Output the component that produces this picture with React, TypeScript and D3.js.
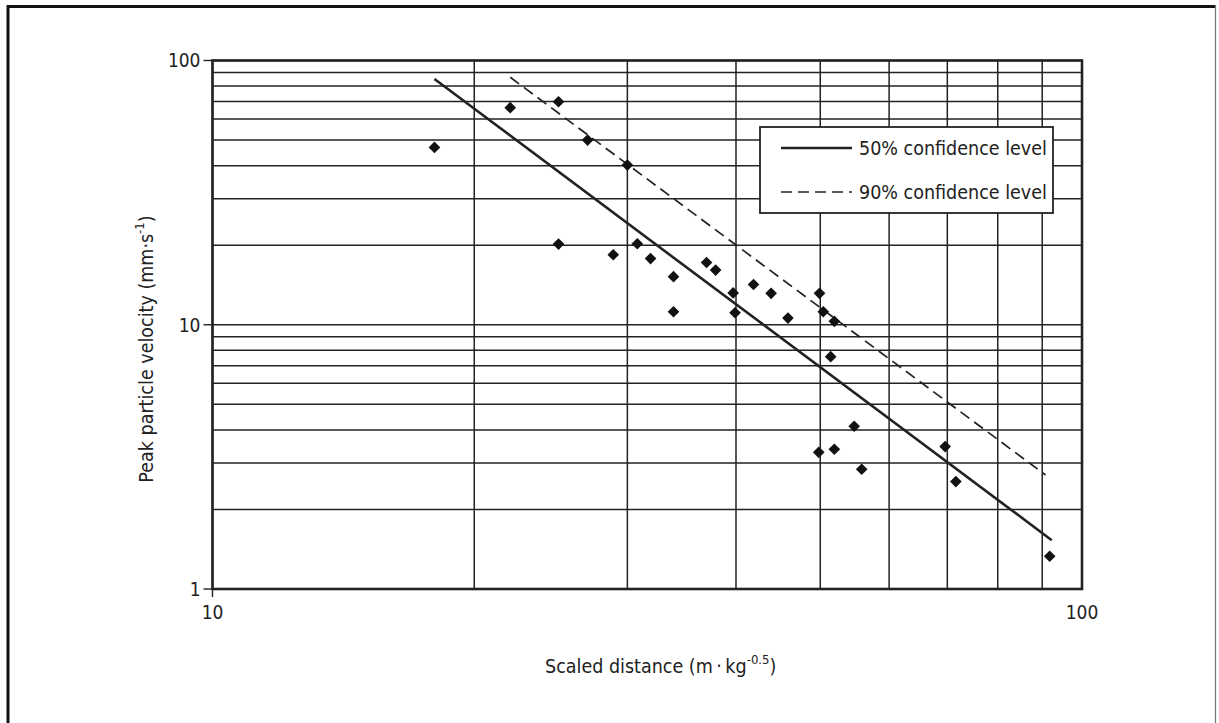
import React, { useEffect, useRef } from 'react';
import * as d3 from 'd3';

// scaled distance (m·kg^-0.5) and peak particle velocity (mm/s)
const distance = [18.0, 22.0, 25.0, 27.0, 30.0, 25.0, 28.9, 30.8, 31.9, 33.9, 33.9, 37.0, 37.9, 39.7, 39.9, 41.9, 43.9, 45.9, 49.9, 50.4, 51.9, 51.4, 49.8, 51.9, 54.7, 55.8, 69.6, 71.6, 91.8];
const velocity = [46.9, 66.3, 69.8, 50.0, 40.2, 20.2, 18.4, 20.25, 17.8, 15.2, 11.2, 17.2, 16.1, 13.2, 11.1, 14.2, 13.15, 10.6, 13.15, 11.2, 10.3, 7.57, 3.29, 3.38, 4.13, 2.84, 3.46, 2.55, 1.33];

// fitted lines (end points)
const fit50Distance = [18.0, 92.3];
const fit50Velocity = [85.1, 1.53];
const fit90Distance = [22.0, 90.8];
const fit90Velocity = [86.4, 2.7];

const xGrid = [10, 20, 30, 40, 50, 60, 70, 80, 90, 100];
const yGrid = [1, 2, 3, 4, 5, 6, 7, 8, 9, 10, 20, 30, 40, 50, 60, 70, 80, 90, 100];
const xTickLabels = [10, 100];
const yTickLabels = [1, 10, 100];
const legendLabels = ['50% confidence level', '90% confidence level'];

const FONT = '"DejaVu Sans", sans-serif';
const INK = '#222';

export default function App() {
    const ref = useRef<SVGSVGElement>(null);

    useEffect(() => {
        const svg = d3.select(ref.current);
        svg.selectAll('*').remove();

        const x = d3.scaleLog().domain([10, 100]).range([212.5, 1082]);
        const y = d3.scaleLog().domain([1, 100]).range([589, 60.5]);
        const [x0, x1] = x.range();
        const [y0, y1] = y.range();

        // outer frame
        svg.append('line').attr('x1', 8).attr('x2', 8).attr('y1', 5).attr('y2', 723)
            .attr('stroke', '#111').attr('stroke-width', 3);
        svg.append('line').attr('x1', 7).attr('x2', 1216).attr('y1', 6.5).attr('y2', 6.5)
            .attr('stroke', '#111').attr('stroke-width', 3);
        svg.append('line').attr('x1', 1215.5).attr('x2', 1215.5).attr('y1', 5).attr('y2', 723)
            .attr('stroke', '#777').attr('stroke-width', 1.2);

        const g = svg.append('g')
            .attr('font-family', FONT).attr('font-stretch', 'condensed').attr('fill', INK);

        // grid
        g.selectAll('.hgrid').data(yGrid).enter().append('line')
            .attr('x1', x0).attr('x2', x1)
            .attr('y1', d => y(d)).attr('y2', d => y(d))
            .attr('stroke', INK).attr('stroke-width', 1.5);
        g.selectAll('.vgrid').data(xGrid).enter().append('line')
            .attr('x1', d => x(d)).attr('x2', d => x(d))
            .attr('y1', y1).attr('y2', y0)
            .attr('stroke', INK).attr('stroke-width', 1.5);

        // plot border
        g.append('rect').attr('x', x0).attr('y', y1)
            .attr('width', x1 - x0).attr('height', y0 - y1)
            .attr('fill', 'none').attr('stroke', INK).attr('stroke-width', 2.6);

        // ticks + labels
        g.selectAll('.ytick').data(yTickLabels).enter().append('line')
            .attr('x1', x0 - 9).attr('x2', x0).attr('y1', d => y(d)).attr('y2', d => y(d))
            .attr('stroke', INK).attr('stroke-width', 1.4);
        g.selectAll('.ylab').data(yTickLabels).enter().append('text')
            .attr('x', x0 - 12).attr('y', d => y(d)).attr('dy', '0.36em')
            .attr('text-anchor', 'end').attr('font-size', 19)
            .text(d => d);
        g.append('line').attr('x1', x0).attr('x2', x0).attr('y1', y0).attr('y2', y0 + 8)
            .attr('stroke', INK).attr('stroke-width', 1.4);
        g.selectAll('.xlab').data(xTickLabels).enter().append('text')
            .attr('x', d => x(d)).attr('y', y0 + 30)
            .attr('text-anchor', 'middle').attr('font-size', 19)
            .text(d => d);

        // axis titles
        const xt = g.append('text').attr('x', 545).attr('y', 673).attr('font-size', 19.5);
        xt.append('tspan').text('Scaled distance (m\u2009\u00b7\u2009kg');
        xt.append('tspan').attr('dy', -9).attr('font-size', 13).text('-0.5');
        xt.append('tspan').attr('dy', 9).text(')');

        const yt = g.append('text').attr('transform', 'translate(153,349) rotate(-90)')
            .attr('text-anchor', 'middle').attr('font-size', 19.5);
        yt.append('tspan').text('Peak particle velocity (mm\u00b7s');
        yt.append('tspan').attr('dy', -9).attr('font-size', 13).text('-1');
        yt.append('tspan').attr('dy', 9).text(')');

        // fit lines
        const line = d3.line<[number, number]>().x(d => x(d[0])).y(d => y(d[1]));
        g.append('path').attr('d', line(d3.zip(fit50Distance, fit50Velocity) as [number, number][]))
            .attr('fill', 'none').attr('stroke', INK).attr('stroke-width', 2.6);
        g.append('path').attr('d', line(d3.zip(fit90Distance, fit90Velocity) as [number, number][]))
            .attr('fill', 'none').attr('stroke', INK).attr('stroke-width', 1.7)
            .attr('stroke-dasharray', '11,6');

        // data points
        const diamond = d3.symbol().type(d3.symbolSquare).size(68);
        g.selectAll('.pt').data(d3.zip(distance, velocity)).enter().append('path')
            .attr('d', diamond)
            .attr('transform', d => `translate(${x(d[0])},${y(d[1])}) rotate(45)`)
            .attr('fill', '#111');

        // legend
        const lg = g.append('g').attr('transform', 'translate(760,127)');
        lg.append('rect').attr('width', 293).attr('height', 86)
            .attr('fill', 'white').attr('stroke', INK).attr('stroke-width', 1.8);
        lg.selectAll('.lline').data(legendLabels).enter().append('line')
            .attr('x1', 21).attr('x2', 92)
            .attr('y1', (d, i) => 21 + i * 44).attr('y2', (d, i) => 21 + i * 44)
            .attr('stroke', INK)
            .attr('stroke-width', (d, i) => i === 0 ? 2.6 : 1.7)
            .attr('stroke-dasharray', (d, i) => i === 0 ? null : '11,6');
        lg.selectAll('.ltext').data(legendLabels).enter().append('text')
            .attr('x', 99).attr('y', (d, i) => 21 + i * 44).attr('dy', '0.36em')
            .attr('font-size', 19.5)
            .text(d => d);
    }, []);

    return (
        <svg ref={ref} width={1219} height={723}
            style={{ position: 'absolute', left: 0, top: 0, background: 'white' }} />
    );
}
